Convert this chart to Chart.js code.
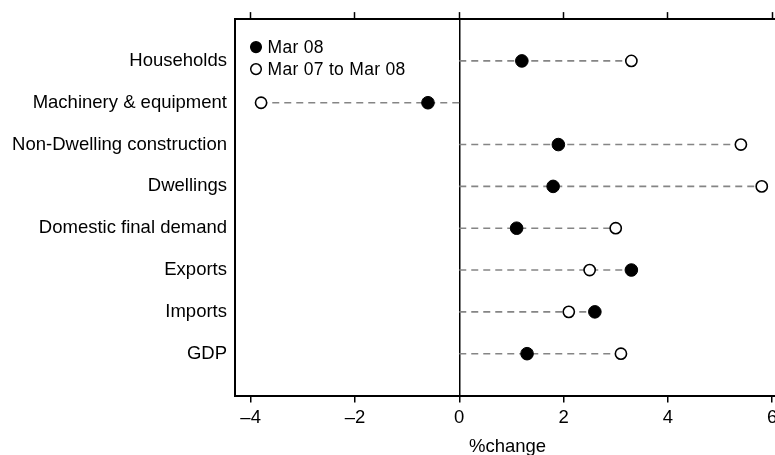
<!DOCTYPE html>
<html>
<head>
<meta charset="utf-8">
<script src="https://cdn.jsdelivr.net/npm/chart.js@4"></script>
<style>
html, body { margin: 0; padding: 0; overflow: hidden; background: #fff; }
#wrap { width: 800px; height: 470px; }
</style>
</head>
<body>
<div id="wrap"><canvas id="chart"></canvas></div>
<script>
const categories = ['Households', 'Machinery & equipment', 'Non-Dwelling construction', 'Dwellings',
    'Domestic final demand', 'Exports', 'Imports', 'GDP'];
const quarterChange = [1.2, -0.6, 1.9, 1.8, 1.1, 3.3, 2.6, 1.3];
const yearChange = [3.3, -3.8, 5.4, 5.8, 3.0, 2.5, 2.1, 3.1];
const xTicks = [-4, -2, 0, 2, 4, 6];
const seriesLabels = ['Mar 08', 'Mar 07 to Mar 08'];

const X_MIN = -4.3;
const X_MAX = 6.15;
const labelFont = { family: '"Liberation Sans", Arial, sans-serif', size: 18.5 };

function toPoints(values) {
    return values.map((v, i) => ({ x: v, y: i + 1 }));
}

// one dashed line per row, from zero out to whichever point is further away
function guideLines() {
    return categories.map((c, i) => {
        const a = quarterChange[i];
        const b = yearChange[i];
        const far = Math.abs(a) > Math.abs(b) ? a : b;
        return {
            data: [{ x: 0, y: i + 1 }, { x: far, y: i + 1 }],
            showLine: true,
            borderColor: '#858585',
            borderWidth: 1.6,
            borderDash: [7, 5],
            pointRadius: 0
        };
    });
}

const insideLegend = {
    id: 'insideLegend',
    afterDraw(chart) {
        const ctx = chart.ctx;
        const area = chart.chartArea;
        ctx.save();
        ctx.font = '17.5px "Liberation Sans", Arial, sans-serif';
        ctx.letterSpacing = '0.3px';
        ctx.textBaseline = 'middle';
        chart.data.datasets.filter(ds => ds.label).forEach((ds, i) => {
            const x = area.left + 21;
            const y = area.top + 28 + i * 22;
            ctx.beginPath();
            ctx.arc(x, y, 5.3, 0, Math.PI * 2);
            ctx.fillStyle = ds.backgroundColor;
            ctx.fill();
            ctx.lineWidth = 1.5;
            ctx.strokeStyle = ds.borderColor;
            ctx.stroke();
            ctx.fillStyle = '#000';
            ctx.fillText(ds.label, x + 11.5, y + 1);
        });
        ctx.restore();
    }
};

function setXTicks(scale) {
    scale.ticks = xTicks.map(v => ({ value: v }));
}

const chartCanvas = document.getElementById('chart');

const chart = new Chart(chartCanvas, {
    type: 'scatter',
    data: {
        datasets: [
            {
                label: seriesLabels[0],
                data: toPoints(quarterChange),
                backgroundColor: '#000',
                borderColor: '#000',
                borderWidth: 1,
                pointRadius: 6.3
            },
            {
                label: seriesLabels[1],
                data: toPoints(yearChange),
                backgroundColor: '#fff',
                borderColor: '#000',
                borderWidth: 1.6,
                pointRadius: 5.6
            },
            ...guideLines()
        ]
    },
    options: {
        responsive: true,
        maintainAspectRatio: false,
        animation: false,
        events: [],
        layout: { padding: { left: 0, right: 20, top: 0, bottom: 0 } },
        scales: {
            x: {
                type: 'linear',
                position: 'bottom',
                min: X_MIN,
                max: X_MAX,
                afterBuildTicks: setXTicks,
                afterFit: s => { s.height = 74.5; },
                ticks: {
                    color: '#000',
                    font: labelFont,
                    padding: 4,
                    maxRotation: 0,
                    callback: v => v < 0 ? '\u2013' + Math.abs(v) : String(v)
                },
                grid: {
                    drawOnChartArea: true,
                    color: ctx => (ctx.tick && ctx.tick.value === 0) ? '#000' : 'rgba(0,0,0,0)',
                    lineWidth: 1.5,
                    tickLength: 7,
                    tickColor: '#000',
                    tickWidth: 1.5
                },
                border: { display: true, color: '#000', width: 2 },
                title: {
                    display: true,
                    text: '%change',
                    color: '#000',
                    font: labelFont,
                    padding: { top: 0, bottom: 12 }
                }
            },
            x2: {
                type: 'linear',
                position: 'top',
                min: X_MIN,
                max: X_MAX,
                afterBuildTicks: setXTicks,
                afterFit: s => { s.height = 17; },
                ticks: { display: false },
                grid: {
                    drawOnChartArea: false,
                    tickLength: 7,
                    tickColor: '#000',
                    tickWidth: 1.5
                },
                border: { display: true, color: '#000', width: 2 }
            },
            y: {
                type: 'linear',
                position: 'left',
                min: 0,
                max: categories.length + 1,
                reverse: true,
                afterBuildTicks: scale => {
                    scale.ticks = categories.map((c, i) => ({ value: i + 1 }));
                },
                afterFit: s => { s.width = 235; },
                ticks: {
                    color: '#000',
                    font: labelFont,
                    padding: 8,
                    callback: v => categories[v - 1]
                },
                grid: { drawOnChartArea: false, drawTicks: false },
                border: { display: true, color: '#000', width: 2 }
            }
        },
        plugins: {
            legend: { display: false },
            tooltip: { enabled: false }
        }
    },
    plugins: [insideLegend]
});
</script>
</body>
</html>
